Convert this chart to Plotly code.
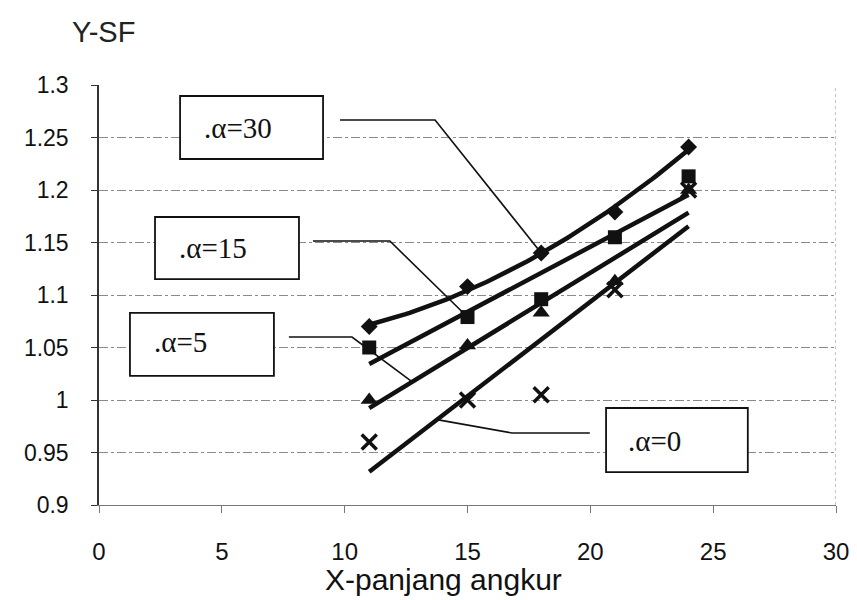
import numpy as np
import plotly.graph_objects as go

# Panjang angkur (X) and safety factor (Y) for each anchor angle
panjang = [11, 15, 18, 21, 24]
sf_a30 = [1.070, 1.108, 1.140, 1.179, 1.241]
sf_a15 = [1.050, 1.079, 1.096, 1.155, 1.213]
sf_a5 = [1.000, 1.052, 1.083, 1.113, 1.200]
sf_a0 = [0.960, 1.000, 1.005, 1.105, 1.200]

y_ticks = [0.9, 0.95, 1.0, 1.05, 1.1, 1.15, 1.2, 1.25, 1.3]
y_ticktext = ["0.9", "0.95", "1", "1.05", "1.1", "1.15", "1.2", "1.25", "1.3"]
x_ticks = [0, 5, 10, 15, 20, 25, 30]

AXIS_FONT = "Arial"
BOX_FONT = "Liberation Serif"

x = np.array(panjang, dtype=float)
x_fit = np.linspace(x.min(), x.max(), 80)

# trendlines: 2nd-order polynomial for alpha=30, linear for the others
fit30 = np.poly1d(np.polyfit(x, sf_a30, 2))
fit15 = np.poly1d(np.polyfit(x, sf_a15, 1))
fit5 = np.poly1d(np.polyfit(x, sf_a5, 1))
fit0 = np.poly1d(np.polyfit(x, sf_a0, 1))

fig = go.Figure()

for fit in (fit30, fit15, fit5, fit0):
    fig.add_trace(go.Scatter(x=x_fit, y=fit(x_fit), mode="lines",
                             line=dict(color="#111111", width=4.5),
                             hoverinfo="skip", showlegend=False))

fig.add_trace(go.Scatter(x=panjang, y=sf_a0, mode="markers", name="α=0",
                         marker=dict(symbol="x-thin", size=15,
                                     line=dict(color="#111111", width=3.5))))
fig.add_trace(go.Scatter(x=panjang, y=sf_a5, mode="markers", name="α=5",
                         marker=dict(symbol="triangle-up", size=15, color="#111111")))
fig.add_trace(go.Scatter(x=panjang, y=sf_a15, mode="markers", name="α=15",
                         marker=dict(symbol="square", size=14, color="#111111")))
fig.add_trace(go.Scatter(x=panjang, y=sf_a30, mode="markers", name="α=30",
                         marker=dict(symbol="diamond", size=13, color="#111111")))

shapes = []
annotations = []

# right-hand border of the plot area
shapes.append(dict(type="line", xref="x", yref="y", x0=30, x1=30, y0=0.9, y1=1.3,
                   line=dict(color="#888888", width=1, dash="dot"), layer="below"))

# labelled boxes with leader lines: (box, text position, label, leader path)
boxes = [
    ((3.30, 1.2295, 9.12, 1.2895), (5.66, 1.259), ".α=30",
     [(9.81, 1.2667), (13.68, 1.2667), (panjang[2], sf_a30[2])]),
    ((2.28, 1.1152, 8.14, 1.1743), (4.64, 1.1448), ".α=15",
     [(8.71, 1.1514), (11.84, 1.1514), (panjang[1], sf_a15[1])]),
    ((1.26, 1.0229, 7.12, 1.0829), (3.30, 1.0548), ".α=5",
     [(7.73, 1.060), (10.30, 1.060), (12.75, float(fit5(12.75)))]),
    ((20.64, 0.9314, 26.41, 0.9924), (22.63, 0.961), ".α=0",
     [(19.98, 0.9686), (16.81, 0.9686), (13.76, float(fit0(13.76)))]),
]

for (bx0, by0, bx1, by1), (tx, ty), label, path in boxes:
    shapes.append(dict(type="rect", xref="x", yref="y", x0=bx0, x1=bx1, y0=by0, y1=by1,
                       line=dict(color="#111111", width=1.8), fillcolor="white", layer="above"))
    d = "M " + " L ".join(f"{px},{py}" for px, py in path)
    shapes.append(dict(type="path", xref="x", yref="y", path=d,
                       line=dict(color="#111111", width=1.6), layer="above"))
    annotations.append(dict(x=tx, y=ty, xref="x", yref="y", text=label, showarrow=False,
                            xanchor="center", yanchor="middle",
                            font=dict(family=BOX_FONT, size=29, color="#111111")))

annotations.append(dict(x=0.006, y=1.127, xref="paper", yref="paper", text="Y-SF",
                        showarrow=False, xanchor="center", yanchor="middle",
                        font=dict(family=AXIS_FONT, size=29, color="#222222")))
annotations.append(dict(x=0.467, y=-0.178, xref="paper", yref="paper",
                        text="X-panjang angkur", showarrow=False,
                        xanchor="center", yanchor="middle",
                        font=dict(family=AXIS_FONT, size=30, color="#111111")))

fig.update_layout(
    width=857, height=600,
    margin=dict(l=99, r=21, t=85, b=95),
    paper_bgcolor="white", plot_bgcolor="white",
    showlegend=False,
    shapes=shapes, annotations=annotations,
    xaxis=dict(range=[0, 30], tickvals=x_ticks, showgrid=False, zeroline=False,
               automargin=False,
               showline=True, linecolor="#777777", linewidth=1,
               ticks="outside", ticklen=7, tickcolor="#777777", tickwidth=1,
               ticklabelstandoff=18,
               tickfont=dict(family=AXIS_FONT, size=24, color="#111111")),
    yaxis=dict(range=[0.9, 1.3], tickvals=y_ticks, ticktext=y_ticktext,
               automargin=False,
               showgrid=True, gridcolor="#8a8a8a", gridwidth=1, griddash="dashdot",
               zeroline=False, showline=True, linecolor="#333333", linewidth=1.5,
               ticks="outside", ticklen=6, tickcolor="#333333",
               ticklabelstandoff=18,
               tickfont=dict(family=AXIS_FONT, size=23, color="#111111")),
)

fig.write_html("out.html")
